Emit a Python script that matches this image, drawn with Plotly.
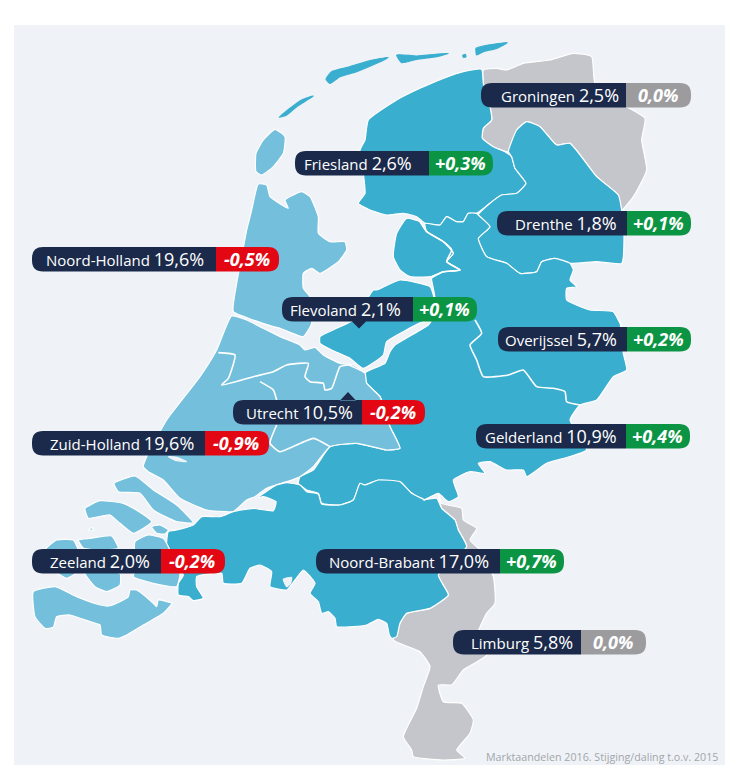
import plotly.graph_objects as go

# ---------- label data ----------
provinces = ["Groningen", "Friesland", "Drenthe", "Noord-Holland", "Flevoland", "Overijssel",
             "Utrecht", "Zuid-Holland", "Gelderland", "Zeeland", "Noord-Brabant", "Limburg"]
shares = ["2,5%", "2,6%", "1,8%", "19,6%", "2,1%", "5,7%", "10,5%", "19,6%", "10,9%", "2,0%", "17,0%", "5,8%"]
changes = ["0,0%", "+0,3%", "+0,1%", "-0,5%", "+0,1%", "+0,2%", "-0,2%", "-0,9%", "+0,4%", "-0,2%", "+0,7%", "0,0%"]
pill_left = [481, 295, 497, 32, 282, 498, 233, 32, 476, 32, 316, 453]
pill_split = [626, 429, 627, 216, 413, 627, 362, 205, 626, 161, 500, 581]
pill_right = [691, 493, 691, 279, 477, 691, 425, 269, 690, 225, 564, 646]
pill_top = [83, 151, 211, 247, 297, 327, 400, 431, 424, 549, 549, 630]
text_centre = [560, 358, 566, 125, 345, 561, 299, 122, 551, 99.5, 409, 522]
pointer_x = [None, None, None, None, 359, None, 348, None, None, None, None, None]
pointer_dir = [0, 0, 0, 0, 1, 0, -1, 0, 0, 0, 0, 0]

NAVY, GREEN, RED, DGREY = "#1b2a4a", "#0b9444", "#e30613", "#9c9c9f"
DARK, LIGHT, GREY, BG = "#3aaecf", "#74c0dc", "#c4c6cb", "#eff3f8"
PILL_H, R = 24.5, 11


def z1(p): return [(230 + x / 3, 40 + y / 3) for x, y in p]
def z2(p): return [(20 + x / 3, 230 + y / 3) for x, y in p]
def z3(p): return [(20 + x / 3, 470 + y / 3) for x, y in p]
def z4(p): return [(380 + x / 3, 320 + y / 3) for x, y in p]


# ---------- map outlines ----------
vlieland = z1([(148,232),(180,205),(215,180),(250,168),(235,178),(200,200),(170,225)])
terschelling = z1([(288,118),(305,95),(360,80),(420,62),(475,52),(440,70),(380,95),(330,110),(300,130)])
ameland = z1([(500,45),(560,48),(655,40),(620,50),(560,58),(515,68)])
schier = z1([(738,25),(775,15),(832,8),(800,25),(760,35),(740,45)])
rottum = z1([(698,46),(706,43),(708,50),(700,52)])
texel = z1([(135,268),(165,290),(160,340),(130,380),(95,405),(78,395),(78,340),(100,300)])
friesland = z1([(755,88),(700,95),(640,115),(570,145),(500,180),(415,240),(405,300),(390,330),(400,400),
                (405,460),(385,490),(420,510),(470,525),(520,520),(560,530),(585,550),(630,555),(650,530),
                (680,545),(700,545),(715,520),(740,520),(780,490),(815,465),(860,460),(888,430),(855,385),
                (845,350),(825,335),(790,320),(757,295),(760,265),(785,240),(780,200),(760,130)])
groningen = z1([(760,90),(800,85),(830,90),(880,70),(960,60),(1030,40),(1085,50),(1095,130),(1190,200),
                (1245,235),(1235,300),(1250,390),(1210,470),(1175,510),(1165,465),(1100,410),(1020,310),
                (980,315),(930,260),(890,245),(860,270),(835,335),(790,320),(757,295),(760,265),(785,240),
                (780,200),(760,130)])
drenthe = z1([(890,245),(930,260),(980,315),(1020,310),(1100,410),(1165,465),(1175,510),(1182,590),(1175,670),
              (1100,665),(1020,670),(975,655),(935,665),(920,695),(870,700),(830,670),(770,650),(745,595),
              (780,560),(745,525),(780,490),(815,465),(860,460),(888,430),(855,385),(845,350),(835,335),(860,270)])
polder = z1([(530,535),(570,545),(590,575),(640,605),(670,640),(650,665),(690,690),(640,695),(600,710),
             (540,710),(510,690),(490,650),(500,580)])
east = (z1([(585,550),(630,555),(650,530),(680,545),(700,545),(715,520),(740,520),(745,525),(780,560),(745,595),
            (770,650),(830,670),(870,700),(920,695),(935,665),(975,655),(1020,670),(1030,690),(1020,720),
            (1040,740),(1010,745),(1010,780),(1080,810),(1150,815),(1175,860)])
        + z4([(720,0),(730,100),(740,150),(700,170),(650,240),(600,255),(570,300),(620,390),(570,410),(500,430),
              (440,470),(430,450),(380,450),(330,425),(295,430),(315,460),(270,455),(220,480),(235,530),(205,545),
              (175,520),(130,540),(90,515),(60,490),(0,487)])
        + z3([(1075,30),(1035,45),(1020,40),(1000,90),(960,105),(905,100),(895,70),(860,60),(835,40),(840,20),(880,0)])
        + z2([(930,650),(1010,640),(1100,660),(1140,655),(1110,590),(1080,500),(1040,460),(1035,428),(1095,400),
              (1110,365),(1125,345),(1225,285)])
        + z1([(605,840),(615,775),(610,745),(605,715),(640,695),(690,690),(650,665),(670,640),(640,605),(590,575)]))
flevoland = (z1([(440,750),(510,720),(600,740),(612,775),(590,845)])
             + z2([(1210,275),(1100,335),(1090,375),(1030,415),(990,385),(935,360),(900,340),(900,320),(950,295),(1000,270),(1060,180)]))
nh_north = (z1([(85,432),(110,435),(120,470),(175,505),(165,480),(215,455),(240,470),(265,530),(265,580),(300,605),
                (345,605),(350,630),(325,665),(270,700),(245,685),(220,700),(220,745)])
            + z2([(870,200),(875,280),(850,320),(780,295),(760,290),(700,270),(640,245),(650,160),(665,80),(680,0)])
            + z1([(65,510)]))
randstad = z2([(635,258),(680,270),(720,290),(780,320),(840,345),(855,360),(885,352),(910,375),(960,400),(1000,405),
               (1035,428),(1040,460),(1080,500),(1110,590),(1140,655),(1100,660),(1010,640),(930,650),(880,710)]) \
           + z3([(840,20),(800,35),(740,55),(705,80),(680,90),(640,125),(615,125),(560,120),(480,85),(430,30),(385,5)]) \
           + z2([(370,710),(380,680),(440,570),(540,440),(590,360)])
brabant = z3([(445,185),(470,180),(520,165),(545,140),(600,140),(640,125),(700,115),(760,122),(768,95),(730,80),(710,85),
              (770,45),(800,38),(840,45),(860,65),(895,72),(905,102),(960,105),(1000,90),(1020,40),(1035,45),(1075,30),
              (1140,35),(1175,70),(1215,90)]) \
          + z4([(130,540),(170,535),(185,565),(225,600),(235,630),(260,680),(175,765),(205,825),(150,865),(80,880),(60,910),(50,950),(35,955)]) \
          + z3([(1108,495),(1100,460),(1075,448),(1040,465),(1000,470),(950,470),(945,445),(925,425),(905,430),(895,395),
                (870,370),(885,340),(850,300),(825,330),(800,360),(750,350),(755,305),(720,285),(690,295),(665,340),(610,340),
                (605,310),(530,320),(530,350),(550,385),(520,392),(505,380),(475,375),(475,340),(490,315),(440,240)])
limburg = z4([(175,520),(185,550),(245,565),(250,600),(290,625),(270,660),(300,690),(340,770),(345,850),(320,880),(290,950),
              (320,1005),(250,1050),(215,1095),(175,1095),(190,1145),(245,1150),(280,1200),(270,1240),(230,1290),(255,1315),
              (190,1320),(100,1310),(95,1290),(70,1250),(110,1165),(130,1100),(150,1040),(120,995),(40,960),(60,910),(80,880),
              (150,865),(205,825),(175,765),(260,680),(235,630),(225,600),(185,565)])
goeree = z3([(282,40),(345,18),(400,60),(470,105),(520,158),(470,155),(400,120),(360,70),(295,65)])
schouwen = z3([(195,115),(240,92),(310,100),(340,115),(395,155),(340,190),(300,160),(270,135),(205,145)])
tholen = z3([(395,170),(420,165),(445,180),(435,192),(410,190)])
n_beveland = z3([(175,210),(210,205),(275,198),(295,235),(240,240),(190,235)])
walcheren = z3([(75,240),(110,210),(160,210),(175,240),(180,300),(140,325),(100,300)])
z_beveland_w = z3([(195,310),(300,310),(300,345),(260,365),(225,350)])
z_beveland_e = z3([(345,215),(385,195),(430,205),(450,240),(480,310),(470,350),(400,340),(340,320),(345,300)])
z_vlaanderen = z3([(40,365),(105,350),(170,380),(230,402),(265,408),(300,395),(325,380),(330,360),(350,360),(400,400),(410,410),
                   (415,390),(455,400),(430,430),(370,465),(320,495),(295,505),(245,495),(240,465),(210,455),(150,435),(110,440),
                   (100,472),(75,475),(45,440)])
zeeland_dot = z3([(205,180),(214,173),(222,180)])
waterweg = z2([(445,680),(470,682),(500,695),(470,692)])
brabant_spot = z3([(790,328),(815,322),(812,340),(800,350)])

# ---------- internal province borders ----------
border_lines = [
    z4([(285,0),(305,40),(270,75),(290,120),(310,170),(385,165),(430,150),(470,200),(520,205),(555,215),(560,245),(600,255)]),
    z2([(595,368),(645,375),(625,445),(605,465),(700,440),(760,425),(800,405),(865,400),(855,440),(870,455),(910,460),
        (915,480),(935,475),(960,410),(985,405),(1035,428)]),
    z2([(720,455),(760,480),(770,510)]),
    z2([(770,585),(750,640),(780,665),(880,625),(930,650)]),
    z1([(570,545),(590,575),(640,605),(665,630),(650,665),(690,690),(640,695),(605,712)]),
]

fills = [
    (vlieland, DARK), (terschelling, DARK), (ameland, DARK), (schier, DARK), (rottum, DARK), (texel, LIGHT),
    (groningen, GREY), (limburg, GREY), (friesland, DARK), (drenthe, DARK), (east, DARK), (polder, DARK),
    (flevoland, DARK), (nh_north, LIGHT), (randstad, LIGHT), (brabant, DARK),
    (goeree, LIGHT), (schouwen, LIGHT), (tholen, LIGHT), (n_beveland, LIGHT), (walcheren, LIGHT),
    (z_beveland_w, LIGHT), (z_beveland_e, LIGHT), (z_vlaanderen, LIGHT), (zeeland_dot, LIGHT),
    (waterweg, BG), (brabant_spot, BG),
]

fig = go.Figure()
for poly, colour in fills:
    xs = [p[0] for p in poly] + [poly[0][0]]
    ys = [p[1] for p in poly] + [poly[0][1]]
    edge = colour if colour == BG or poly in (vlieland, terschelling, ameland, schier, rottum) else "#ffffff"
    fig.add_trace(go.Scatter(x=xs, y=ys, mode="lines", fill="toself", fillcolor=colour,
                             line=dict(color=edge, width=1.2, shape="spline", smoothing=0.45),
                             hoverinfo="skip", showlegend=False))
for line in border_lines:
    fig.add_trace(go.Scatter(x=[p[0] for p in line], y=[p[1] for p in line], mode="lines",
                             line=dict(color="#ffffff", width=1.6, shape="spline", smoothing=0.45),
                             hoverinfo="skip", showlegend=False))


def left_pill(l, s, t, px, d):
    b = t + PILL_H
    path = f"M{s},{t} L{l+R},{t} Q{l},{t} {l},{t+R} L{l},{b-R} Q{l},{b} {l+R},{b} "
    if d == 1:
        path += f"L{px-7},{b} L{px},{b+7} L{px+7},{b} "
    path += f"L{s},{b} "
    if d == -1:
        path += f"Z M{px-8},{t+0.5} L{px},{t-8} L{px+8},{t+0.5} "
    return path + "Z"


def right_pill(s, r, t):
    b = t + PILL_H
    return f"M{s},{t} L{r-R},{t} Q{r},{t} {r},{t+R} L{r},{b-R} Q{r},{b} {r-R},{b} L{s},{b} Z"


shapes = [dict(type="rect", xref="x", yref="y", x0=14, x1=725, y0=25, y1=765,
               fillcolor=BG, line=dict(width=0), layer="below")]
annotations = []
for i, name in enumerate(provinces):
    t = pill_top[i]
    delta = changes[i]
    colour = DGREY if delta == "0,0%" else (GREEN if delta.startswith("+") else RED)
    shapes.append(dict(type="path", path=left_pill(pill_left[i], pill_split[i], t, pointer_x[i], pointer_dir[i]),
                       fillcolor=NAVY, line=dict(width=0), layer="above"))
    shapes.append(dict(type="path", path=right_pill(pill_split[i], pill_right[i], t),
                       fillcolor=colour, line=dict(width=0), layer="above"))
    annotations.append(dict(x=text_centre[i], y=t + PILL_H / 2, xref="x", yref="y", showarrow=False,
                            text=f'{name} <span style="font-size:18px">{shares[i]}</span>',
                            font=dict(family="Open Sans", size=15, color="#ffffff"),
                            xanchor="center", yanchor="middle"))
    annotations.append(dict(x=(pill_split[i] + pill_right[i]) / 2 - 1, y=t + PILL_H / 2, xref="x", yref="y",
                            showarrow=False, text=f"<b><i>{delta}</i></b>",
                            font=dict(family="Open Sans", size=18, color="#ffffff"),
                            xanchor="center", yanchor="middle"))
annotations.append(dict(x=720, y=757, xref="x", yref="y", showarrow=False, xanchor="right", yanchor="middle",
                        text="Marktaandelen 2016. Stijging/daling t.o.v. 2015",
                        font=dict(family="Open Sans", size=10.7, color="#a3a5a9")))

fig.update_layout(width=742, height=778, margin=dict(l=0, r=0, t=0, b=0), paper_bgcolor="#ffffff",
                  plot_bgcolor="#ffffff", shapes=shapes, annotations=annotations, showlegend=False,
                  xaxis=dict(range=[0, 742], visible=False, fixedrange=True),
                  yaxis=dict(range=[778, 0], visible=False, fixedrange=True))
fig.write_html("out.html", config={"displayModeBar": False},
               post_script="document.body.style.margin='0';document.body.style.overflow='hidden';")
